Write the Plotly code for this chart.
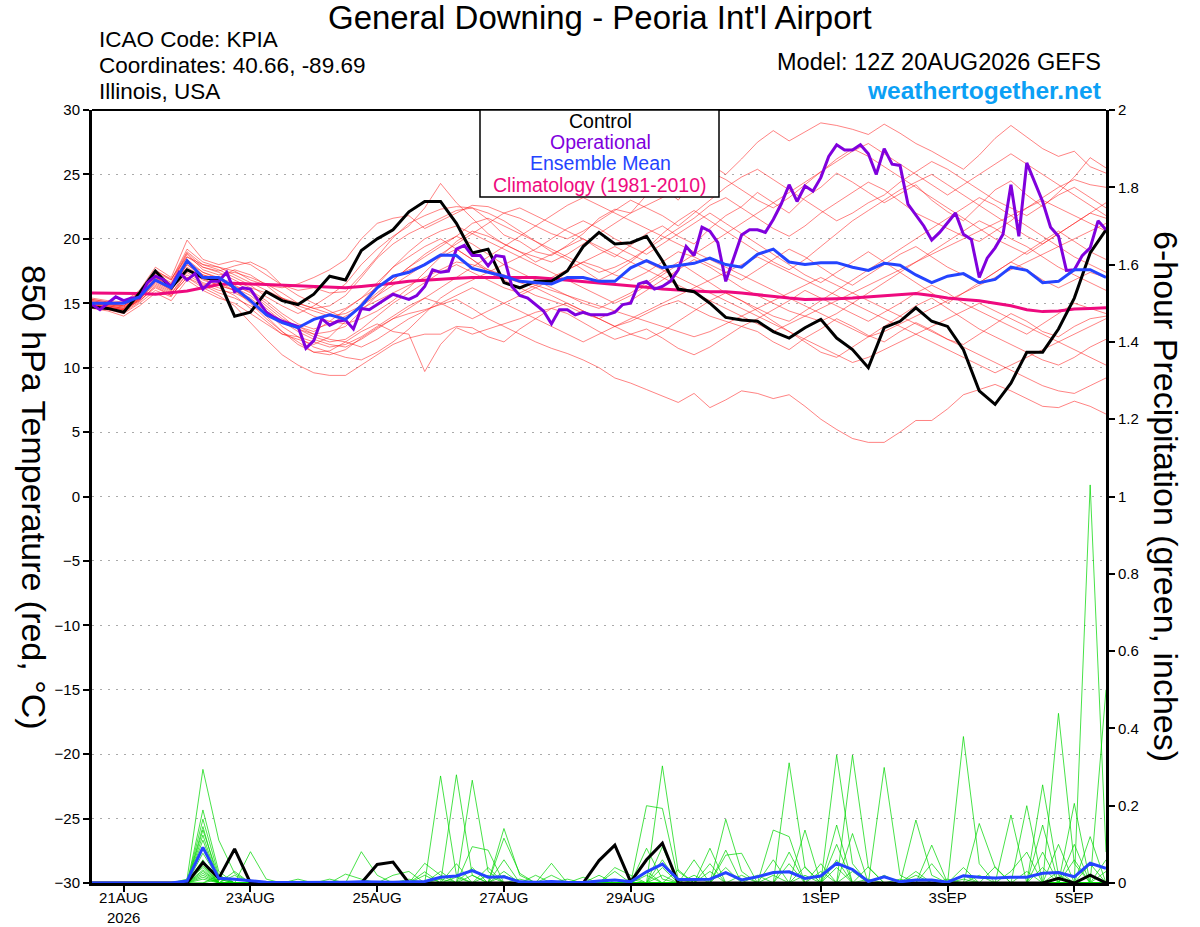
import plotly.graph_objects as go
import pandas as pd

# ---------------- DATA ----------------
run_start = "2026-08-20 12:00"
n_steps_6h = 65
n_steps_3h = 129

tick_dates = ["2026-08-21", "2026-08-23", "2026-08-25", "2026-08-27",
              "2026-08-29", "2026-09-01", "2026-09-03", "2026-09-05"]
tick_labels = ["21AUG<br>2026", "23AUG", "25AUG", "27AUG", "29AUG", "1SEP", "3SEP", "5SEP"]

temp_ticks = [30, 25, 20, 15, 10, 5, 0, -5, -10, -15, -20, -25, -30]
precip_ticks = [0, 0.2, 0.4, 0.6, 0.8, 1, 1.2, 1.4, 1.6, 1.8, 2]

control_temp = [
    14.7, 14.6, 14.3, 15.8, 17.5, 16.2, 17.6, 17.0, 16.8, 14.0, 14.3, 15.9, 15.2,
    14.9, 15.7, 17.1, 16.8, 19.1, 20.0, 20.7, 22.1, 22.9, 22.9, 21.2, 18.9, 19.2,
    16.6, 16.2, 16.7, 16.7, 17.5, 19.4, 20.5, 19.6, 19.7, 20.2, 18.3, 16.1, 15.9,
    15.0, 13.9, 13.7, 13.6, 12.8, 12.3, 13.1, 13.75, 12.3, 11.4, 10.0, 13.1, 13.6,
    14.65, 13.6, 13.2, 11.4, 8.2, 7.15, 8.8, 11.2, 11.2, 13.0, 15.4, 18.9, 20.7,
]

control_precip = [
    0, 0, 0, 0, 0, 0, 0, 0.053, 0.012, 0.088, 0, 0, 0,
    0, 0, 0, 0, 0, 0.048, 0.054, 0, 0, 0, 0, 0, 0,
    0, 0, 0, 0, 0, 0, 0.058, 0.098, 0.003, 0.06, 0.103, 0, 0,
    0, 0, 0, 0, 0, 0, 0, 0, 0, 0, 0, 0, 0,
    0, 0, 0, 0, 0, 0, 0, 0, 0, 0.012, 0, 0.02, 0,
]

# operational run, 3-hourly
oper_temp = [
    14.9, 14.5, 15.0, 15.5, 15.2, 15.4, 15.4, 16.6, 17.1, 16.85,
    16.3, 17.4, 16.8, 17.3, 16.1, 16.7, 16.7, 17.4, 15.9, 16.2,
    16.1, 15.2, 14.3, 13.9, 13.6, 13.4, 13.2, 11.5, 12.1, 13.8,
    13.3, 13.6, 13.7, 13.0, 14.6, 14.5, 14.9, 15.3, 15.7, 15.5,
    15.3, 15.6, 16.3, 17.6, 17.4, 17.5, 19.2, 19.5, 18.7, 18.7,
    17.9, 18.7, 18.6, 16.3, 15.6, 15.4, 14.9, 14.4, 13.4, 14.5,
    14.5, 14.1, 14.3, 14.1, 14.1, 14.1, 14.3, 14.9, 15.0, 16.5,
    16.7, 16.1, 16.3, 16.7, 17.6, 19.4, 18.7, 20.9, 20.6, 19.7,
    16.7, 18.5, 20.3, 20.7, 20.7, 20.5, 21.5, 22.7, 24.2, 22.9,
    24.1, 23.7, 24.75, 26.4, 27.3, 26.9, 26.9, 27.3, 26.6, 25.0,
    27.0, 25.8, 25.7, 22.7, 21.8, 21.0, 19.9, 20.5, 21.25, 22.0,
    20.35, 19.95, 17.0, 18.5, 19.3, 20.35, 24.2, 20.2, 25.9, 24.4,
    22.9, 20.9, 20.2, 17.55, 17.6, 18.7, 19.3, 21.4, 20.7,
]

mean_temp = [
    15.0, 15.0, 15.0, 15.5, 16.8, 16.2, 18.3, 17.0, 17.0, 16.2,
    15.2, 14.1, 13.5, 13.1, 13.75, 14.1, 13.75, 14.8, 16.2, 17.1,
    17.4, 18.0, 18.75, 18.7, 17.7, 17.4, 17.1, 16.7, 16.6, 16.5,
    17.0, 17.0, 16.7, 16.7, 17.75, 18.3, 17.75, 17.9, 18.1, 18.5,
    18.0, 17.8, 18.8, 19.2, 18.2, 18.0, 18.15, 18.15, 17.8, 17.55,
    18.1, 17.95, 17.2, 16.6, 17.1, 17.3, 16.6, 16.85, 17.8, 17.55,
    16.6, 16.7, 17.6, 17.6, 17.0,
]

mean_precip = [
    0, 0, 0, 0, 0, 0, 0.005, 0.092, 0.012, 0.010, 0.006, 0.002, 0.001,
    0.001, 0.001, 0.002, 0.002, 0.003, 0.002, 0.002, 0.003, 0.004, 0.015, 0.018, 0.032, 0.015,
    0.016, 0.003, 0.002, 0.004, 0.002, 0.001, 0.005, 0.008, 0.003, 0.029, 0.049, 0.009, 0.009,
    0.010, 0.027, 0.008, 0.016, 0.027, 0.029, 0.012, 0.018, 0.051, 0.035, 0.004, 0.016, 0.003,
    0.008, 0.008, 0.002, 0.019, 0.015, 0.013, 0.015, 0.015, 0.025, 0.027, 0.016, 0.051, 0.038,
]

clim_temp = [
    15.8, 15.8, 15.8, 15.75, 15.7, 15.8, 15.95, 16.2, 16.45, 16.55,
    16.5, 16.45, 16.4, 16.35, 16.3, 16.25, 16.2, 16.3, 16.4, 16.55,
    16.7, 16.8, 16.9, 16.95, 17.0, 17.0, 17.0, 17.0, 17.0, 16.9,
    16.8, 16.7, 16.6, 16.5, 16.35, 16.25, 16.1, 16.0, 15.95, 15.9,
    15.9, 15.8, 15.65, 15.5, 15.4, 15.3, 15.3, 15.35, 15.4, 15.5,
    15.6, 15.7, 15.75, 15.6, 15.4, 15.3, 15.2, 15.0, 14.8, 14.5,
    14.35, 14.4, 14.55, 14.6, 14.65,
]

member_temps = [
    [15.2, 15.0, 14.8, 15.6, 17.0, 16.4, 18.6, 17.8, 17.5, 17.9, 18.2, 17.6, 16.4,
     16.0, 16.2, 15.8, 15.9, 17.2, 18.6, 20.1, 21.2, 21.8, 22.3, 22.5, 22.4, 21.5,
     20.3, 19.8, 19.0, 18.7, 19.5, 20.4, 21.6, 22.3, 22.0, 23.4, 24.1, 23.0, 24.6,
     25.8, 25.0, 26.2, 27.5, 28.4, 27.6, 28.3, 29.0, 28.8, 28.5, 28.1, 28.9, 28.2,
     27.4, 26.8, 26.1, 25.4, 26.5, 27.8, 28.8, 27.9, 27.0, 26.4, 26.8, 25.6, 25.1],
    [14.8, 14.6, 14.4, 15.3, 16.5, 15.8, 17.2, 16.5, 16.0, 15.8, 15.2, 14.0, 12.8,
     12.0, 11.2, 11.0, 11.4, 12.3, 13.1, 13.8, 14.2, 14.5, 14.9, 15.3, 14.6, 13.8,
     13.2, 12.6, 12.0, 11.5, 11.1, 10.6, 10.0, 9.2, 8.8, 8.3, 7.8, 7.3, 8.0,
     6.9, 7.5, 8.2, 8.0, 7.6, 7.9, 7.0, 6.0, 5.2, 4.5, 4.2, 4.2, 5.0,
     5.9, 5.9, 6.8, 7.9, 8.3, 8.7, 8.2, 7.6, 7.0, 6.9, 7.4, 7.0, 6.4],
    [14.9, 14.7, 14.5, 15.2, 16.2, 15.6, 17.0, 16.2, 15.6, 14.8, 13.5, 12.2, 11.0,
     10.2, 9.6, 9.4, 9.4, 10.2, 11.0, 11.8, 12.3, 12.6, 12.6, 13.2, 13.1, 12.4,
     12.0, 13.0, 13.8, 14.6, 14.2, 13.5, 12.8, 12.2, 12.6, 13.0, 12.3, 11.5, 11.0,
     11.6, 12.4, 13.2, 12.8, 12.0, 11.4, 12.3, 13.0, 13.8, 13.2, 12.5, 12.0, 12.8,
     13.5, 12.9, 12.2, 11.8, 12.6, 13.4, 14.2, 13.6, 12.8, 12.4, 13.2, 13.8, 14.0],
    [15.0, 14.8, 14.6, 15.4, 16.8, 16.0, 17.8, 17.0, 16.6, 16.0, 15.0, 13.8, 12.8,
     11.8, 11.2, 11.3, 12.0, 12.8, 13.4, 12.8, 12.6, 9.7, 11.8, 13.1, 12.6, 13.0,
     13.4, 13.8, 14.3, 14.6, 15.0, 14.4, 13.8, 13.2, 13.6, 14.2, 14.8, 15.2, 14.6,
     14.0, 13.6, 13.2, 13.8, 14.5, 15.2, 16.0, 15.4, 14.8, 14.2, 13.6, 14.3, 15.0,
     15.8, 16.4, 15.8, 15.0, 14.4, 13.8, 13.2, 12.6, 13.4, 14.2, 15.0, 14.6, 14.2],
    [15.3, 15.1, 15.0, 15.8, 17.4, 16.8, 19.0, 18.0, 17.6, 17.0, 16.4, 15.5, 14.8,
     14.2, 14.8, 15.6, 16.5, 18.0, 19.2, 20.2, 21.0, 22.4, 24.3, 22.8, 21.6, 20.4,
     19.6, 19.0, 18.2, 18.8, 19.4, 20.0, 19.2, 18.6, 19.5, 20.4, 21.0, 20.2, 19.6,
     20.8, 21.8, 22.5, 23.6, 22.8, 22.0, 23.2, 24.0, 25.1, 24.4, 23.6, 22.8, 23.5,
     24.2, 23.0, 22.1, 21.4, 22.6, 23.8, 24.5, 23.4, 22.5, 23.6, 24.8, 26.3, 25.5],
    [15.1, 14.9, 14.7, 15.5, 17.2, 16.5, 18.8, 17.6, 17.2, 17.4, 17.0, 16.5, 15.8,
     15.0, 14.6, 14.8, 15.6, 17.0, 18.5, 19.6, 20.4, 21.0, 21.6, 22.2, 22.4, 22.0,
     21.4, 20.6, 19.8, 19.2, 18.6, 18.0, 17.4, 17.8, 18.4, 19.2, 20.0, 20.8, 21.6,
     22.6, 23.2, 22.4, 21.6, 20.8, 20.2, 21.0, 22.0, 22.8, 23.6, 24.4, 23.8, 22.9,
     22.0, 21.4, 20.8, 20.2, 19.8, 20.6, 21.4, 22.4, 23.2, 24.0, 24.6, 24.2, 24.0],
    [15.0, 14.8, 14.6, 15.4, 16.8, 16.2, 18.0, 17.2, 16.8, 16.4, 15.8, 14.8, 13.8,
     13.2, 12.8, 13.6, 14.5, 15.4, 16.2, 17.0, 17.6, 18.0, 18.6, 19.2, 18.4, 17.6,
     17.0, 16.6, 16.2, 16.8, 17.6, 18.2, 17.8, 17.2, 16.8, 17.4, 18.2, 19.0, 18.6,
     18.0, 17.4, 16.8, 17.6, 18.4, 19.2, 18.6, 17.8, 17.0, 16.4, 17.2, 18.0, 18.8,
     19.4, 18.6, 17.8, 17.2, 16.6, 17.4, 18.2, 17.6, 16.8, 16.2, 16.8, 17.4, 17.0],
    [14.7, 14.5, 14.2, 15.0, 16.0, 15.5, 17.4, 16.6, 16.2, 15.6, 14.6, 13.6, 12.6,
     12.2, 11.8, 12.4, 13.6, 15.0, 16.4, 17.8, 18.6, 19.4, 20.0, 19.2, 18.4, 17.4,
     16.8, 16.2, 15.6, 15.2, 14.8, 14.2, 13.8, 14.4, 15.2, 16.0, 16.8, 17.6, 18.4,
     17.8, 17.0, 16.2, 15.6, 15.0, 14.4, 14.0, 13.6, 14.2, 15.0, 15.8, 16.6, 17.4,
     18.2, 19.0, 19.8, 20.6, 21.4, 20.8, 20.0, 19.4, 18.6, 17.8, 17.2, 16.6, 16.0],
    [15.2, 15.0, 14.8, 15.6, 17.6, 16.8, 19.2, 18.2, 17.8, 17.5, 16.8, 16.4, 16.2,
     16.5, 17.0, 17.6, 18.4, 20.0, 21.2, 21.6, 21.8, 20.8, 21.4, 22.0, 22.6, 22.5,
     22.0, 21.6, 21.0, 20.4, 20.0, 20.6, 21.4, 22.2, 23.0, 22.4, 21.8, 21.0, 22.0,
     23.0, 24.0, 24.8, 25.4, 24.6, 23.8, 23.0, 22.2, 21.4, 22.0, 22.8, 23.4, 24.4,
     25.2, 26.0, 25.4, 24.6, 23.8, 23.0, 22.4, 21.8, 22.6, 23.4, 24.0, 23.2, 22.4],
    [14.6, 14.4, 14.0, 14.8, 15.8, 15.2, 16.8, 16.0, 15.4, 15.0, 14.2, 13.4, 12.6,
     12.4, 12.0, 11.6, 11.8, 12.4, 13.2, 14.0, 14.8, 15.4, 15.0, 14.4, 13.8, 14.4,
     15.0, 15.6, 16.2, 15.6, 15.0, 14.4, 13.8, 13.2, 12.6, 12.2, 12.8, 13.6, 14.4,
     15.2, 15.8, 15.2, 14.4, 13.6, 12.8, 12.0, 11.2, 10.8, 11.6, 12.4, 13.2, 14.0,
     14.8, 15.4, 14.6, 13.8, 13.0, 12.4, 11.8, 11.2, 10.6, 10.2, 10.8, 11.6, 12.2],
    [15.4, 15.2, 15.1, 16.0, 17.8, 17.0, 19.9, 18.4, 18.0, 18.3, 18.0, 17.2, 16.4,
     15.6, 15.0, 14.4, 13.8, 14.8, 15.8, 16.8, 17.8, 18.6, 19.4, 20.2, 21.2, 21.6,
     21.0, 20.4, 19.8, 19.0, 18.4, 17.6, 16.8, 17.4, 18.2, 19.2, 20.4, 21.4, 22.2,
     21.4, 20.6, 19.8, 19.0, 18.2, 17.6, 18.4, 19.4, 20.4, 21.4, 22.2, 23.0, 23.8,
     24.4, 25.0, 24.2, 23.4, 22.6, 21.8, 21.0, 20.2, 19.6, 20.4, 21.2, 22.0, 21.6],
    [14.9, 14.7, 14.5, 15.3, 16.6, 15.9, 18.2, 17.4, 16.9, 16.6, 16.0, 15.2, 14.2,
     13.4, 13.0, 13.4, 14.0, 14.6, 15.2, 15.8, 16.4, 17.0, 17.6, 18.2, 18.0, 17.6,
     17.2, 16.8, 16.4, 16.0, 15.6, 15.2, 14.8, 14.4, 14.0, 13.6, 13.2, 12.8, 12.4,
     12.8, 13.4, 14.0, 14.6, 15.2, 15.8, 16.4, 17.0, 16.4, 15.8, 15.2, 14.6, 14.0,
     13.4, 12.8, 12.2, 11.6, 11.0, 10.4, 9.8, 9.2, 8.6, 8.2, 8.0, 8.6, 9.2],
    [15.0, 14.8, 14.6, 15.5, 17.0, 16.3, 18.4, 17.4, 17.0, 17.6, 17.2, 16.4, 15.4,
     14.6, 14.0, 13.6, 13.4, 13.8, 14.4, 15.2, 16.2, 17.4, 18.6, 19.8, 20.6, 20.2,
     19.6, 19.0, 18.6, 18.2, 18.8, 19.6, 20.4, 21.2, 22.0, 22.6, 23.2, 24.0, 24.6,
     25.2, 24.6, 23.8, 23.0, 22.4, 23.2, 24.2, 25.2, 26.2, 27.0, 26.4, 25.6, 24.8,
     24.0, 23.2, 22.4, 21.6, 20.8, 20.0, 19.4, 18.8, 19.6, 20.4, 21.2, 22.0, 22.8],
    [14.8, 14.6, 14.3, 15.1, 16.4, 15.7, 17.6, 16.8, 16.4, 16.0, 15.4, 14.4, 13.2,
     12.4, 11.6, 11.2, 10.8, 10.6, 11.2, 12.0, 13.0, 14.2, 15.4, 16.2, 16.8, 17.4,
     18.0, 17.4, 16.8, 16.2, 15.6, 15.0, 14.6, 15.2, 15.8, 16.6, 17.4, 18.2, 17.4,
     16.6, 15.8, 15.2, 14.6, 14.0, 13.6, 14.4, 15.2, 16.0, 16.8, 17.6, 18.4, 19.2,
     20.0, 20.8, 21.6, 22.4, 23.2, 22.6, 21.8, 21.0, 20.2, 19.4, 18.6, 18.0, 17.4],
    [15.1, 14.9, 14.8, 15.7, 17.3, 16.6, 18.9, 17.8, 17.4, 16.8, 16.2, 15.8, 15.4,
     15.0, 14.6, 14.2, 14.6, 15.4, 16.6, 17.8, 19.0, 20.0, 20.6, 21.0, 20.4, 19.8,
     19.2, 18.6, 18.0, 17.4, 16.8, 16.2, 15.6, 15.0, 15.6, 16.4, 17.2, 18.0, 18.8,
     19.6, 20.4, 21.2, 22.0, 22.8, 23.6, 24.4, 25.2, 26.0, 26.8, 27.4, 26.6, 25.8,
     25.0, 24.2, 23.4, 24.2, 25.0, 25.8, 26.6, 25.8, 25.0, 24.2, 23.4, 22.6, 21.8],
    [14.7, 14.5, 14.4, 15.2, 16.3, 15.6, 17.0, 16.4, 15.8, 15.4, 14.8, 14.2, 13.6,
     13.0, 12.4, 12.0, 12.2, 13.0, 14.0, 15.0, 15.8, 16.6, 17.4, 18.0, 17.4, 16.8,
     16.2, 15.8, 16.4, 17.0, 17.6, 18.2, 18.8, 19.4, 18.8, 18.2, 17.6, 17.0, 16.4,
     15.8, 15.2, 14.6, 14.0, 13.4, 12.8, 12.2, 11.6, 11.0, 10.4, 10.8, 11.4, 12.0,
     12.6, 13.2, 13.8, 14.4, 15.0, 14.4, 13.8, 13.2, 12.6, 12.0, 11.4, 10.8, 10.2],
    [15.3, 15.1, 15.0, 15.9, 17.5, 16.9, 18.6, 18.0, 17.8, 17.2, 16.6, 16.0, 15.4,
     14.8, 14.4, 14.0, 14.2, 14.8, 15.6, 16.4, 17.2, 18.0, 18.8, 19.6, 20.4, 21.2,
     22.0, 22.4, 21.8, 21.2, 20.6, 20.0, 19.4, 18.8, 18.2, 17.6, 17.0, 16.4, 15.8,
     15.2, 14.6, 14.0, 13.4, 12.8, 13.4, 14.0, 14.6, 15.2, 15.8, 16.4, 17.0, 17.6,
     18.2, 18.8, 19.4, 20.0, 20.6, 21.2, 21.8, 22.4, 23.0, 22.4, 21.8, 21.2, 20.6],
    [14.9, 14.7, 14.5, 15.4, 16.9, 16.1, 18.0, 17.0, 16.6, 16.2, 15.6, 14.6, 13.6,
     12.8, 12.2, 11.8, 11.6, 12.2, 13.0, 13.8, 14.6, 15.4, 16.2, 17.0, 17.8, 18.6,
     19.4, 20.2, 21.0, 21.8, 22.6, 23.2, 22.6, 22.0, 21.4, 20.8, 20.2, 19.6, 19.0,
     18.4, 17.8, 17.2, 16.6, 16.0, 15.4, 14.8, 14.2, 13.6, 13.0, 12.4, 12.8, 13.4,
     14.0, 14.6, 15.2, 15.8, 16.4, 17.0, 17.6, 18.2, 18.8, 19.4, 20.0, 20.6, 21.2],
    [15.0, 14.9, 14.7, 15.5, 16.9, 16.4, 18.3, 17.2, 16.9, 16.3, 15.9, 15.0, 14.0,
     13.0, 12.6, 12.8, 13.2, 14.4, 15.6, 16.8, 17.8, 18.8, 19.6, 20.2, 19.6, 18.8,
     18.0, 18.6, 19.2, 20.0, 20.8, 21.4, 20.8, 20.0, 19.4, 18.8, 19.6, 20.4, 21.2,
     22.0, 21.2, 20.4, 19.6, 18.8, 18.0, 17.2, 16.6, 17.4, 18.2, 19.0, 18.2, 17.4,
     16.6, 15.8, 15.0, 15.8, 16.6, 17.4, 18.2, 19.0, 19.8, 20.6, 19.8, 19.0, 18.4],
    [14.8, 14.6, 14.5, 15.3, 16.7, 16.0, 17.6, 16.9, 16.4, 16.0, 15.2, 14.4, 13.6,
     13.2, 12.6, 12.2, 12.0, 11.6, 12.2, 13.0, 13.8, 14.4, 15.0, 15.6, 16.2, 15.6,
     15.0, 14.4, 13.8, 13.2, 12.6, 12.0, 12.6, 13.2, 13.8, 14.4, 15.0, 15.6, 16.2,
     16.8, 17.4, 18.0, 18.6, 18.0, 17.4, 16.8, 16.2, 15.6, 15.0, 14.4, 13.8, 13.2,
     12.6, 12.0, 11.4, 10.8, 10.2, 9.6, 10.2, 10.8, 11.4, 12.0, 12.6, 13.2, 13.8],
]

# ensemble member 6-hour precipitation: {step index: inches}, all other steps 0
member_precip = [
    {6: 0.01, 7: 0.294, 8: 0.111, 9: 0.025, 22: 0.277, 23: 0.02, 36: 0.303, 37: 0.03, 47: 0.331, 48: 0.05, 55: 0.02, 63: 1.03, 64: 0.08},
    {7: 0.189, 8: 0.03, 23: 0.28, 24: 0.02, 35: 0.2, 36: 0.193, 37: 0.01, 48: 0.331, 49: 0.04, 60: 0.254, 61: 0.02},
    {7: 0.165, 8: 0.02, 10: 0.081, 11: 0.01, 24: 0.266, 25: 0.03, 44: 0.311, 45: 0.04, 55: 0.379, 56: 0.05, 64: 0.5},
    {7: 0.146, 9: 0.03, 17: 0.081, 18: 0.02, 26: 0.141, 27: 0.02, 40: 0.165, 41: 0.03, 50: 0.299, 51: 0.02, 62: 0.206},
    {7: 0.137, 8: 0.015, 21: 0.051, 22: 0.02, 26: 0.116, 27: 0.025, 36: 0.094, 43: 0.137, 44: 0.12, 59: 0.2},
    {7: 0.124, 24: 0.094, 25: 0.085, 35: 0.09, 36: 0.01, 39: 0.09, 52: 0.163, 53: 0.02, 61: 0.439, 62: 0.05},
    {7: 0.111, 13: 0.01, 29: 0.051, 38: 0.06, 45: 0.137, 47: 0.15, 58: 0.176},
    {7: 0.077, 8: 0.01, 16: 0.023, 17: 0.01, 25: 0.04, 40: 0.072, 41: 0.077, 48: 0.128, 56: 0.154, 57: 0.04},
    {7: 0.06, 9: 0.02, 19: 0.02, 20: 0.03, 33: 0.04, 34: 0.02, 40: 0.085, 44: 0.05, 53: 0.098, 60: 0.08},
    {7: 0.034, 21: 0.029, 26: 0.06, 32: 0.02, 39: 0.05, 43: 0.06, 47: 0.06, 55: 0.04, 62: 0.1},
    {7: 0.02, 15: 0.01, 23: 0.015, 30: 0.01, 36: 0.04, 46: 0.03, 49: 0.042, 58: 0.03, 59: 0.08},
    {6: 0.005, 7: 0.04, 20: 0.01, 28: 0.02, 37: 0.034, 42: 0.02, 51: 0.01, 57: 0.042, 63: 0.05},
    {7: 0.05, 24: 0.04, 27: 0.01, 35: 0.02, 45: 0.042, 50: 0.02, 61: 0.1, 64: 0.03},
    {8: 0.02, 22: 0.03, 26: 0.02, 36: 0.06, 48: 0.03, 54: 0.01, 60: 0.15},
    {7: 0.01, 25: 0.02, 31: 0.015, 38: 0.02, 44: 0.08, 52: 0.03, 62: 0.06},
    {7: 0.03, 23: 0.05, 29: 0.02, 41: 0.02, 47: 0.1, 56: 0.02, 63: 0.12},
    {7: 0.025, 22: 0.01, 33: 0.03, 40: 0.04, 45: 0.02, 53: 0.05, 61: 0.03},
    {7: 0.015, 24: 0.02, 34: 0.01, 39: 0.03, 47: 0.04, 55: 0.01, 64: 0.06},
    {8: 0.01, 21: 0.02, 35: 0.03, 43: 0.02, 49: 0.01, 59: 0.03, 63: 0.02},
    {7: 0.045, 26: 0.03, 36: 0.02, 46: 0.05, 52: 0.02, 60: 0.04},
]

# ---------------- FIGURE ----------------
FONT = "Liberation Sans, Arial, Helvetica, sans-serif"
W, H = 1200, 927
ML, MR, MT, MB = 92, 94, 110, 44
PW, PH = W - ML - MR, H - MT - MB

def px_x(px):
    return (px - ML) / PW

def px_y(py):
    return (H - MB - py) / PH

times6 = pd.date_range(run_start, periods=n_steps_6h, freq="6h")
times3 = pd.date_range(run_start, periods=n_steps_3h, freq="3h")

fig = go.Figure()

# ensemble precipitation (green)
for spikes in member_precip:
    vals = [spikes.get(i, 0.0) for i in range(n_steps_6h)]
    fig.add_trace(go.Scatter(x=times6, y=vals, yaxis="y2", mode="lines",
                             line=dict(color="rgba(0,215,0,0.8)", width=0.9),
                             hoverinfo="skip", showlegend=False))

# ensemble temperature (red)
for vals in member_temps:
    fig.add_trace(go.Scatter(x=times6, y=vals, mode="lines",
                             line=dict(color="rgba(255,25,25,0.6)", width=0.9),
                             hoverinfo="skip", showlegend=False))

# control / mean precip
fig.add_trace(go.Scatter(x=times6, y=control_precip, yaxis="y2", mode="lines",
                         line=dict(color="black", width=3), showlegend=False))
fig.add_trace(go.Scatter(x=times6, y=mean_precip, yaxis="y2", mode="lines",
                         line=dict(color="#2444ff", width=3), showlegend=False))

# main temperature lines
fig.add_trace(go.Scatter(x=times6, y=clim_temp, mode="lines",
                         line=dict(color="#ee0a7e", width=3), showlegend=False))
fig.add_trace(go.Scatter(x=times6, y=control_temp, mode="lines",
                         line=dict(color="black", width=3), showlegend=False))
fig.add_trace(go.Scatter(x=times3, y=oper_temp, mode="lines",
                         line=dict(color="#8000dd", width=3), showlegend=False))
fig.add_trace(go.Scatter(x=times6, y=mean_temp, mode="lines",
                         line=dict(color="#2444ff", width=3), showlegend=False))

fig.update_layout(
    width=W, height=H, autosize=False,
    margin=dict(l=ML, r=MR, t=MT, b=MB, pad=0),
    paper_bgcolor="white", plot_bgcolor="white",
    font=dict(family=FONT, color="black", size=15),
    showlegend=False,
    xaxis=dict(type="date", range=[times6[0], times6[-1]],
               tickvals=tick_dates, ticktext=tick_labels,
               ticks="outside", ticklen=6, tickwidth=1.5, tickcolor="black",
               ticklabelstandoff=-7,
               showline=True, linewidth=3, linecolor="black",
               showgrid=False, zeroline=False, automargin=False,
               tickfont=dict(size=15, family=FONT, color="black")),
    yaxis=dict(range=[-30, 30], tickvals=temp_ticks,
               ticks="outside", ticklen=6, tickwidth=1.5, tickcolor="black",
               showline=True, linewidth=3, linecolor="black",
               showgrid=True, gridcolor="#aaaaaa", gridwidth=1.3, griddash="2px,6px",
               zeroline=False, automargin=False,
               tickfont=dict(size=15, family=FONT, color="black")),
    yaxis2=dict(range=[0, 2], tickvals=precip_ticks, overlaying="y", side="right",
                ticks="outside", ticklen=6, tickwidth=1.5, tickcolor="black",
                showline=True, linewidth=3, linecolor="black",
                showgrid=False, zeroline=False, automargin=False,
                tickfont=dict(size=15, family=FONT, color="black")),
)

# top border
fig.add_shape(type="line", xref="paper", yref="paper", x0=0, x1=1, y0=1, y1=1,
              line=dict(color="black", width=2))

# legend box
fig.add_shape(type="rect", xref="paper", yref="paper",
              x0=px_x(480), x1=px_x(719), y0=px_y(197), y1=px_y(110),
              line=dict(color="black", width=1.5), fillcolor="white", layer="above")

legend_items = [("Control", "black", 121), ("Operational", "#8000dd", 142),
                ("Ensemble Mean", "#2444ff", 163), ("Climatology (1981-2010)", "#ee0a7e", 185)]
for text, color, py in legend_items:
    fig.add_annotation(text=text, xref="paper", yref="paper", x=px_x(600), y=px_y(py),
                       xanchor="center", yanchor="middle", showarrow=False,
                       font=dict(size=19.5, color=color, family=FONT))

# titles and header texts
fig.add_annotation(text="General Downing - Peoria Int'l Airport", xref="paper", yref="paper",
                   x=px_x(600), y=px_y(18), xanchor="center", yanchor="middle",
                   showarrow=False, font=dict(size=33, family=FONT, color="black"))
for text, py in [("ICAO Code: KPIA", 40), ("Coordinates: 40.66, -89.69", 66), ("Illinois, USA", 92)]:
    fig.add_annotation(text=text, xref="paper", yref="paper", x=px_x(97), y=px_y(py),
                       xanchor="left", yanchor="middle", showarrow=False,
                       font=dict(size=22.5, family=FONT, color="black"))
fig.add_annotation(text="Model: 12Z 20AUG2026 GEFS", xref="paper", yref="paper",
                   x=px_x(1103), y=px_y(61.5), xanchor="right", yanchor="middle",
                   showarrow=False, font=dict(size=23.5, family=FONT, color="black"))
fig.add_annotation(text="<b>weathertogether.net</b>", xref="paper", yref="paper",
                   x=px_x(1103), y=px_y(90), xanchor="right", yanchor="middle",
                   showarrow=False, font=dict(size=24.5, family=FONT, color="#0ba0f5"))

# axis titles (read top to bottom)
fig.add_annotation(text="850 hPa Temperature (red, °C)", xref="paper", yref="paper",
                   x=px_x(34), y=px_y(497), xanchor="center", yanchor="middle",
                   textangle=90, showarrow=False,
                   font=dict(size=34, family=FONT, color="black"))
fig.add_annotation(text="6-hour Precipitation (green, inches)", xref="paper", yref="paper",
                   x=px_x(1166), y=px_y(496), xanchor="center", yanchor="middle",
                   textangle=90, showarrow=False,
                   font=dict(size=34, family=FONT, color="black"))

fig.write_html("out.html", config={"displayModeBar": False})

with open("out.html", "r", encoding="utf-8") as f:
    html = f.read()
html = html.replace("<head>", "<head><style>html,body{margin:0;padding:0;}</style>", 1)
with open("out.html", "w", encoding="utf-8") as f:
    f.write(html)
